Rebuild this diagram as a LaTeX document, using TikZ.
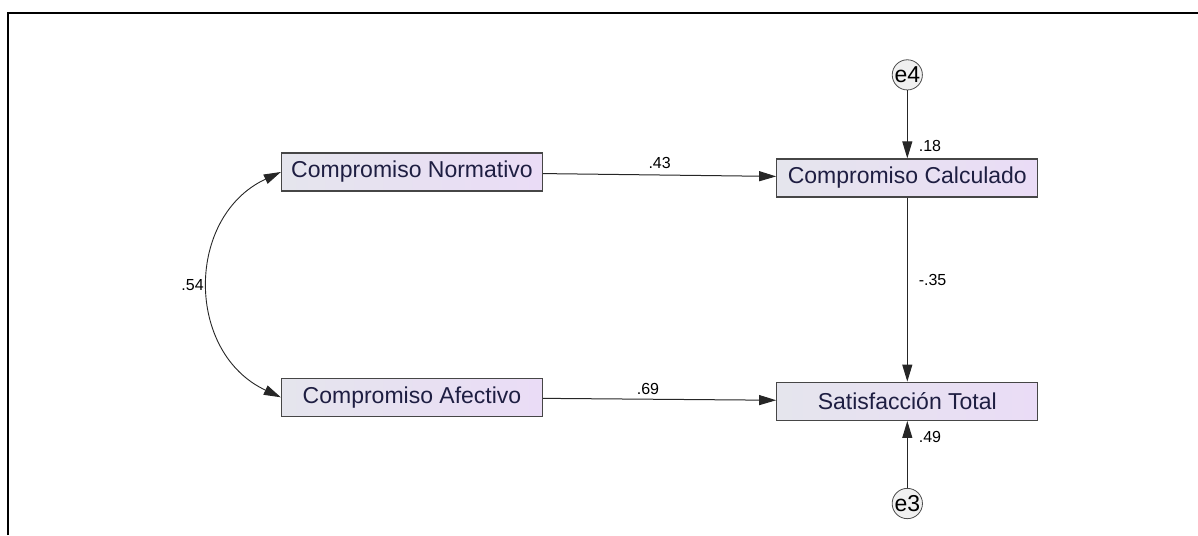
\documentclass[tikz,border=0pt]{standalone}
\usepackage{fontspec}
\setmainfont{Liberation Sans}
\usetikzlibrary{positioning,arrows.meta}
\definecolor{boxl}{RGB}{229,229,237}
\definecolor{boxr}{RGB}{234,220,246}
\definecolor{boxtxt}{RGB}{30,30,66}
\definecolor{edge}{RGB}{70,70,70}

\begin{document}
\begin{tikzpicture}[x=1pt,y=1pt,
  every node/.style={align=center,},%
  v/.style={rectangle,minimum width=261pt,minimum height=38pt,inner sep=0pt,%
    left color=boxl,right color=boxr,draw=edge,line width=1.3pt,%
    text=boxtxt,font=\fontsize{23}{23}\selectfont,},%
  er/.style={circle,minimum size=28pt,inner sep=0pt,fill=gray!12,%
    draw=gray!60!black,line width=0.8pt,font=\fontsize{23}{23}\selectfont,},%
  e/.style={-{Triangle[length=17pt,width=10pt]},line width=1pt,draw=black!85,},%
  c/.style={{Triangle[length=17pt,width=10pt]}-{Triangle[length=17pt,width=10pt]},%
    line width=0.9pt,draw=black!85,},%
  lb/.style={font=\fontsize{16}{16}\selectfont,inner sep=2pt,},%
  ]
  \useasboundingbox (0,0) rectangle (1198,-535);
  \draw [line width=2.5pt] (8,-535) -- (8,-13) -- (1198,-13);

  \node (norm) [v] at (412,-172) {Compromiso Normativo};

  \node (afec) [v,below=186pt of norm] {Compromiso Afectivo};

  \node (calc) [v,right=233pt of norm,yshift=-6pt] {Compromiso Calculado};

  \node (sat) [v,below=184pt of calc] {Satisfacción Total};

  \node (e4) [er,above=68pt of calc] {e4};
  \node (e3) [er,below=67pt of sat] {e3};

  \draw [e] (norm) -- (calc) node [midway,above=4pt,lb] {.43};
  \draw [e] (afec) -- (sat) node [pos=0.45,above=2pt,lb] {.69};
  \draw [e] (calc) -- (sat) node [pos=0.45,right=9pt,lb] {-.35};
  \draw [e] (e4) -- (calc) node [pos=0.82,right=9pt,lb] {.18};
  \draw [e] (e3) -- (sat) node [pos=0.76,right=9pt,lb] {.49};
  \draw [c] (norm.west) to [out=205,in=155,looseness=1.2]
    node [left=3pt,lb] {.54} (afec.west);
\end{tikzpicture}
\end{document}
